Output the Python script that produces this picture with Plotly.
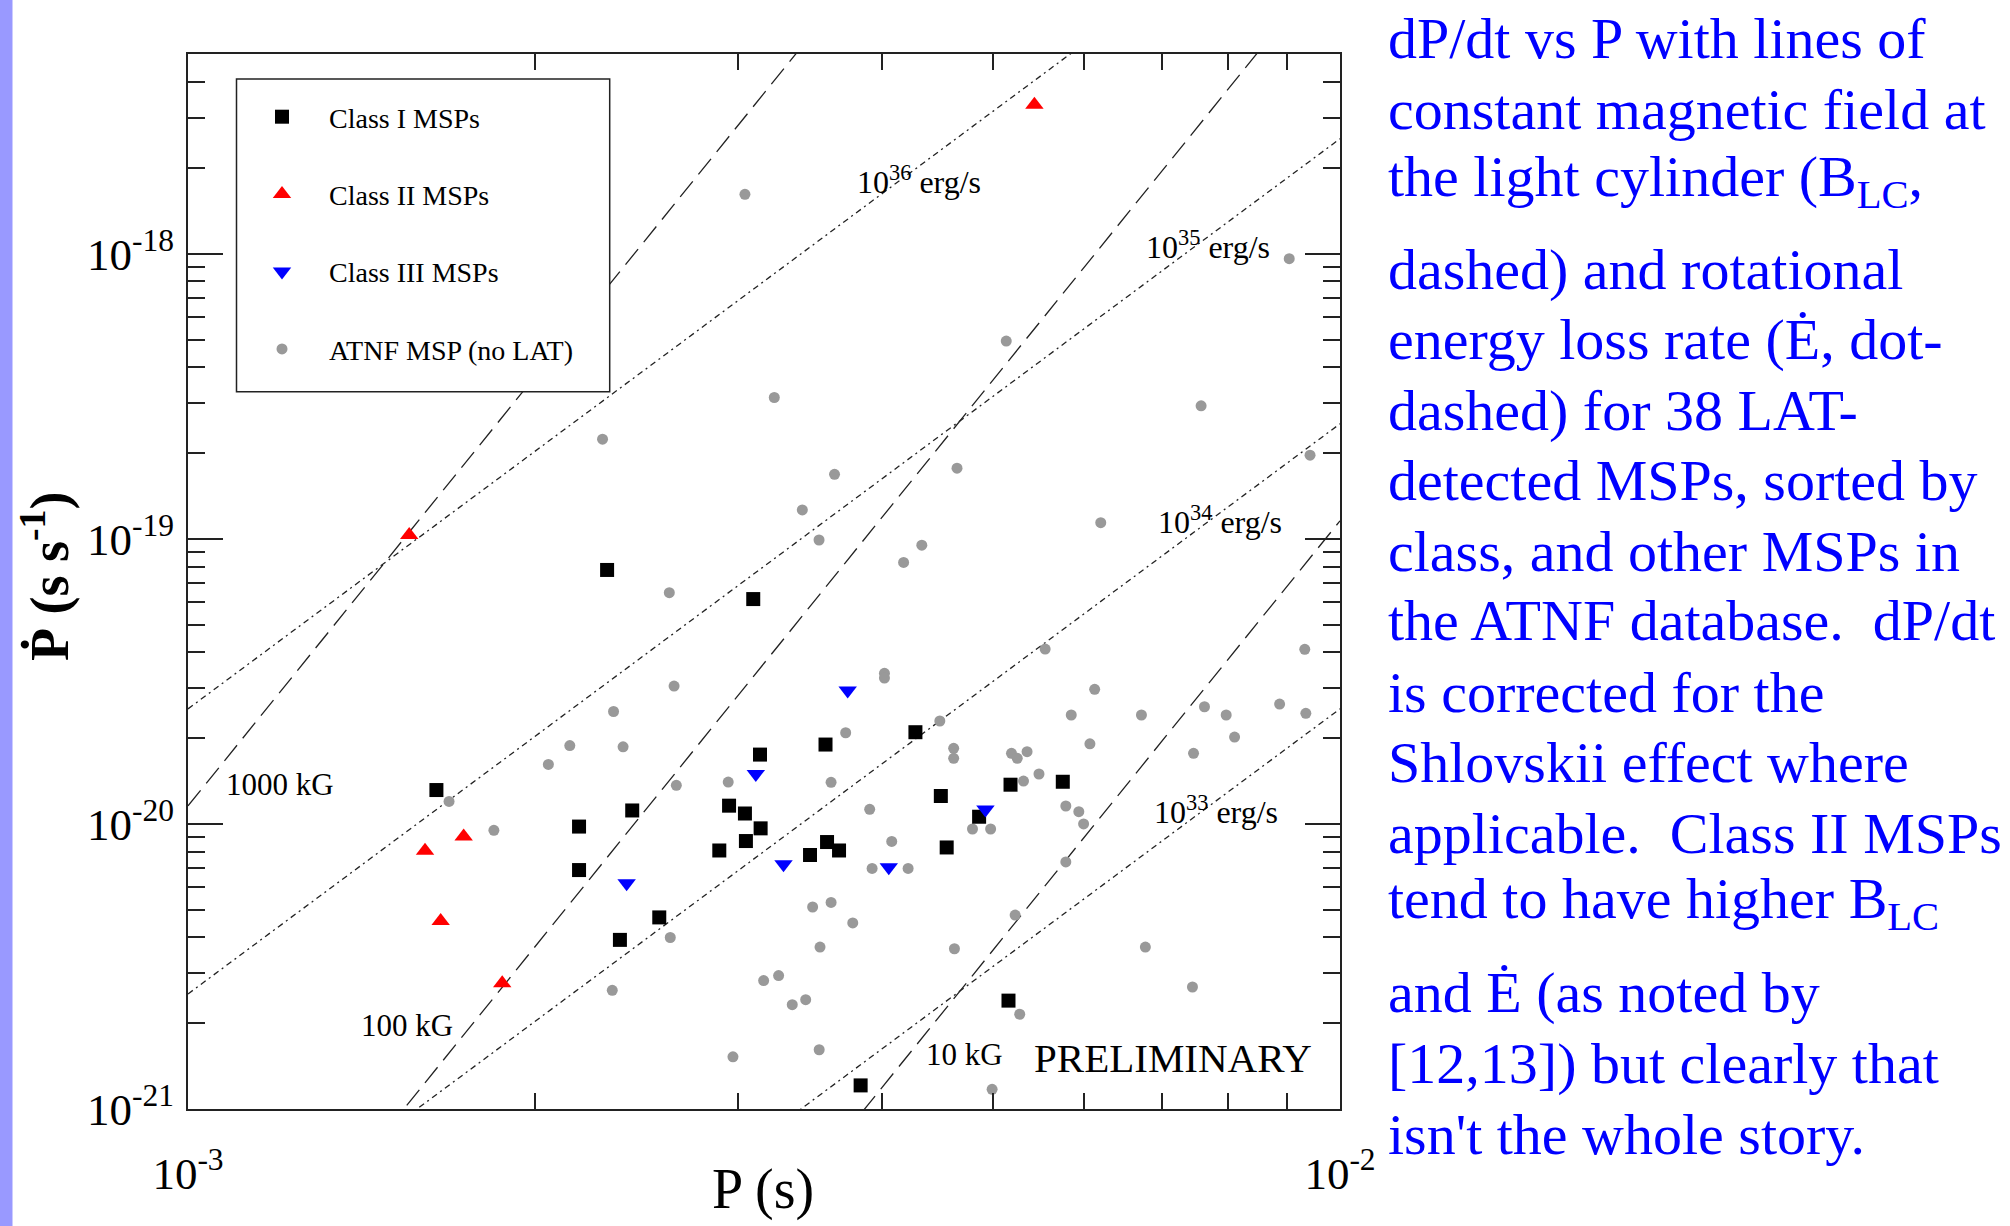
import numpy as np
import plotly.graph_objects as go

# ---------------- data (P in ms, Pdot in units of 1e-20 s/s) ----------------
class1_P_ms = [1.643, 2.311, 3.095, 3.137, 2.185, 2.185, 2.430, 2.565, 2.371, 2.949,
               3.044, 3.141, 3.050, 2.892, 3.576, 4.280, 4.503, 3.467, 3.587, 3.674,
               4.556, 4.861, 5.176, 5.746, 5.155, 3.836]
class1_Pdot = [1.315, 7.78, 6.15, 1.751, 0.979, 0.689, 1.115, 0.470, 0.392, 1.159,
               1.088, 0.965, 0.871, 0.807, 1.899, 2.098, 1.253, 0.778, 0.864, 0.807,
               0.827, 1.060, 1.373, 1.406, 0.240, 0.121]

class2_P_ms = [1.556, 5.429, 1.735, 1.606, 1.657, 1.874]
class2_Pdot = [10.31, 333.4, 0.904, 0.806, 0.457, 0.276]

class3_P_ms = [2.403, 3.111, 3.738, 3.288, 4.058, 4.923]
class3_Pdot = [0.619, 1.497, 2.938, 0.722, 0.705, 1.124]

atnf_P_ms = [3.044, 2.290, 5.132, 3.228, 7.576, 9.035, 3.641, 4.651, 9.419, 3.414,
             3.530, 4.335, 4.180, 6.199, 2.617, 2.642, 2.341, 2.145, 2.386, 2.055,
             2.654, 2.944, 1.685, 1.843, 2.622, 2.335, 2.972, 3.160, 3.256, 3.346,
             3.437, 3.531, 5.547, 4.023, 4.023, 6.124, 9.320, 5.844, 6.724, 7.627,
             7.965, 8.863, 9.340, 8.100, 6.066, 7.462, 3.723, 4.494, 4.620, 4.620,
             5.186, 5.246, 5.350, 5.312, 5.479, 3.616, 3.906, 4.797, 4.974, 5.781,
             5.933, 5.990, 4.082, 3.925, 4.218, 5.781, 3.485, 3.616, 3.776, 5.224,
             3.537, 4.627, 6.777, 7.446, 5.272, 4.989]
atnf_Pdot = [161.7, 22.37, 49.44, 31.33, 29.30, 96.12, 16.84, 17.70, 19.67, 12.63,
             9.91, 9.50, 8.27, 11.40, 6.475, 3.046, 2.480, 1.884, 1.865, 1.617,
             1.366, 1.403, 1.199, 0.950, 0.3996, 0.2609, 0.1524, 0.2821, 0.2938, 0.2322,
             0.2419, 0.1614, 4.108, 3.376, 3.250, 2.967, 4.099, 2.411, 2.411, 2.577,
             2.411, 2.634, 2.444, 2.018, 1.911, 1.769, 2.089, 2.297, 1.842, 1.699,
             1.769, 1.699, 1.792, 1.414, 1.497, 1.400, 1.125, 0.960, 0.960, 1.156,
             1.104, 1.000, 0.868, 0.698, 0.698, 0.7355, 0.5113, 0.5303, 0.4494, 0.4789,
             0.3700, 0.3649, 0.3700, 0.2679, 0.2150, 0.1172]

# reference lines
EDOT_LINES = [1e33, 1e34, 1e35, 1e36]          # erg/s  (dot-dashed)
BLC_LINES_KG = [10, 100, 1000]                  # kG     (dashed)

x_tick_vals = [1e-3, 1e-2]
x_tick_text = ["10<sup>-3</sup>", "10<sup>-2</sup>"]
y_tick_vals = [1e-21, 1e-20, 1e-19, 1e-18]
y_tick_text = ["10<sup>-21</sup>", "10<sup>-20</sup>", "10<sup>-19</sup>", "10<sup>-18</sup>"]

caption_lines = [
    "dP/dt vs P with lines of",
    "constant magnetic field at",
    "the light cylinder (B<sub>LC</sub>,",
    "dashed) and rotational",
    "energy loss rate (\u0116, dot-",
    "dashed) for 38 LAT-",
    "detected MSPs, sorted by",
    "class, and other MSPs in",
    "the ATNF database.\u00a0 dP/dt",
    "is corrected for the",
    "Shlovskii effect where",
    "applicable.\u00a0 Class II MSPs",
    "tend to have higher B<sub>LC</sub>",
    "and \u0116 (as noted by",
    "[12,13]) but clearly that",
    "isn't the whole story.",
]

# ---------------- layout helpers ----------------
W, H = 2010, 1226
L, R, T, B = 188, 1340, 54, 1109
def px(X):
    return (X - L) / (R - L)
def py(Y):
    return (B - Y) / (B - T)

SERIF = "Liberation Serif"
fig = go.Figure()

P_line = np.array([1e-3, 1e-2])
for E in EDOT_LINES:
    pdot = E * P_line**3 / (4 * np.pi**2 * 1e45)
    fig.add_trace(go.Scatter(x=P_line, y=pdot, mode="lines", showlegend=False, hoverinfo="skip",
                             line=dict(color="#222222", width=1.3, dash="6px,4px,2px,4px")))
for Bk in BLC_LINES_KG:
    pdot = (Bk * 1e3 / 2.94e8) ** 2 * P_line**5
    fig.add_trace(go.Scatter(x=P_line, y=pdot, mode="lines", showlegend=False, hoverinfo="skip",
                             line=dict(color="#222222", width=1.3, dash="20px,9px")))

def to_s(v):
    return [a * 1e-3 for a in v]
def to_pdot(v):
    return [a * 1e-20 for a in v]

fig.add_trace(go.Scatter(x=to_s(atnf_P_ms), y=to_pdot(atnf_Pdot), mode="markers",
                         name="ATNF MSP (no LAT)", legendgroup="d", legendrank=4,
                         marker=dict(symbol="circle", size=11, color="#999999")))
fig.add_trace(go.Scatter(x=to_s(class1_P_ms), y=to_pdot(class1_Pdot), mode="markers",
                         name="Class I MSPs", legendgroup="a", legendrank=1,
                         marker=dict(symbol="square", size=14, color="black")))
fig.add_trace(go.Scatter(x=to_s(class2_P_ms), y=to_pdot(class2_Pdot), mode="markers",
                         name="Class II MSPs", legendgroup="b", legendrank=2,
                         marker=dict(symbol="triangle-up", size=16, color="#ff0000")))
fig.add_trace(go.Scatter(x=to_s(class3_P_ms), y=to_pdot(class3_Pdot), mode="markers",
                         name="Class III MSPs", legendgroup="c", legendrank=3,
                         marker=dict(symbol="triangle-down", size=16, color="#0000ff")))

x_minor = [k * 1e-3 for k in range(2, 10)]
y_minor = [k * 10.0**e for e in range(-21, -17) for k in range(2, 10)]

axis_common = dict(type="log", showline=True, mirror="allticks", linecolor="#222222", linewidth=2,
                   ticks="inside", tickwidth=1.5, tickcolor="#222222", showgrid=False, zeroline=False,
                   tickfont=dict(family=SERIF, size=45, color="black"))

fig.update_layout(
    width=W, height=H, autosize=False,
    margin=dict(l=L, r=W - R, t=T, b=H - B, pad=0),
    paper_bgcolor="white", plot_bgcolor="white",
    xaxis=dict(**axis_common, range=[-3, -2], tickmode="array", tickvals=x_tick_vals,
               ticktext=x_tick_text, ticklen=35, ticklabelstandoff=24,
               minor=dict(tickmode="array", tickvals=x_minor, ticks="inside", ticklen=16,
                          tickwidth=1.5, tickcolor="#222222", showgrid=False)),
    yaxis=dict(**axis_common, range=[-21, -17.299], tickmode="array", tickvals=y_tick_vals,
               ticktext=y_tick_text, ticklen=35, ticklabelstandoff=3,
               minor=dict(tickmode="array", tickvals=y_minor, ticks="inside", ticklen=17,
                          tickwidth=1.5, tickcolor="#222222", showgrid=False)),
    legend=dict(x=px(235), y=py(92), xanchor="left", yanchor="top",
                bgcolor="rgba(0,0,0,0)", borderwidth=0, itemwidth=84,
                traceorder="grouped", tracegroupgap=38,
                font=dict(family=SERIF, size=28, color="black")),
    showlegend=True,
)

# legend box + left accent bar
fig.add_shape(type="rect", xref="paper", yref="paper", x0=px(236.5), x1=px(609.7),
              y0=py(391.7), y1=py(79), fillcolor="white", line=dict(color="#222222", width=1.5),
              layer="above")
fig.add_shape(type="rect", xref="paper", yref="paper", x0=px(0), x1=px(12.5),
              y0=py(H), y1=py(0), fillcolor="#9999ff", line=dict(width=0), layer="above")

def ann(text, X, Y, size, xanchor="left", color="black", angle=0, yanchor="middle"):
    fig.add_annotation(text=text, x=px(X), y=py(Y), xref="paper", yref="paper",
                       xanchor=xanchor, yanchor=yanchor, showarrow=False, textangle=angle,
                       font=dict(family=SERIF, size=size, color=color))

# line labels
ann("10<sup>36</sup> erg/s", 855, 180, 32)
ann("10<sup>35</sup> erg/s", 1144, 245, 32)
ann("10<sup>34</sup> erg/s", 1156, 520, 32)
ann("10<sup>33</sup> erg/s", 1152, 810, 32)
ann("1000 kG", 224, 784, 31)
ann("100 kG", 359, 1025, 31)
ann("10 kG", 924, 1054, 31)
ann("PRELIMINARY", 1032, 1058, 41)

# axis titles
ann("P (s)", 763, 1189, 56, xanchor="center")
ann("<b>\u1E56 (s s<sup>-1</sup>)</b>", 45, 577, 54, xanchor="center", angle=-90)

# caption
baselines = [60, 130.5, 201.7, 290.6, 360.6, 431, 501.4, 572.6, 641.9, 713,
             783.6, 854.3, 923.4, 1013, 1084, 1155]
for txt, bl in zip(caption_lines, baselines):
    ann(txt, 1386, bl - 21, 58, color="#0000ff")

fig.write_html("out.html", config={"displayModeBar": False},
               post_script="document.body.style.margin='0px';")
